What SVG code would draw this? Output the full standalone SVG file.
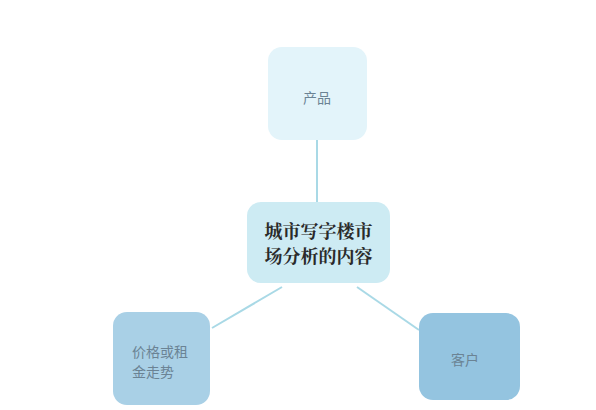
<svg xmlns="http://www.w3.org/2000/svg" width="596" height="410" viewBox="0 0 596 410">
<style>
.conn{stroke:#a9d9e6;stroke-width:2;fill:none}
.t{font-family:"Noto Sans CJK SC","Noto Sans",sans-serif;font-size:14px;fill:#6b8394}
.tb{font-family:"Noto Serif CJK SC","Noto Sans CJK SC",serif;font-size:18px;font-weight:bold;fill:#2a2a2a}
</style>
<rect width="596" height="410" fill="#ffffff"/>
<g id="connectors">
<line class="conn" x1="317" y1="140" x2="317" y2="202"/>
<line class="conn" x1="282" y1="287" x2="212" y2="328"/>
<line class="conn" x1="357" y1="287" x2="419" y2="330"/>
</g>
<g id="node-product">
<rect x="268" y="47" width="99" height="93" rx="14" fill="#e3f4fa"/>
<text class="t" x="317" y="103" text-anchor="middle">产品</text>
</g>
<g id="node-center">
<rect x="247" y="202" width="143" height="81" rx="14" fill="#cdebf3"/>
<text class="tb" x="318.5" y="238" text-anchor="middle">城市写字楼市</text>
<text class="tb" x="318.5" y="263" text-anchor="middle">场分析的内容</text>
</g>
<g id="node-price">
<rect x="113" y="312" width="97" height="93" rx="14" fill="#a9d0e6"/>
<text class="t" x="132" y="357">价格或租</text>
<text class="t" x="132" y="377">金走势</text>
</g>
<g id="node-customer">
<rect x="419" y="313" width="101" height="87" rx="14" fill="#94c4e0"/>
<text class="t" x="465" y="365" text-anchor="middle">客户</text>
</g>
</svg>
